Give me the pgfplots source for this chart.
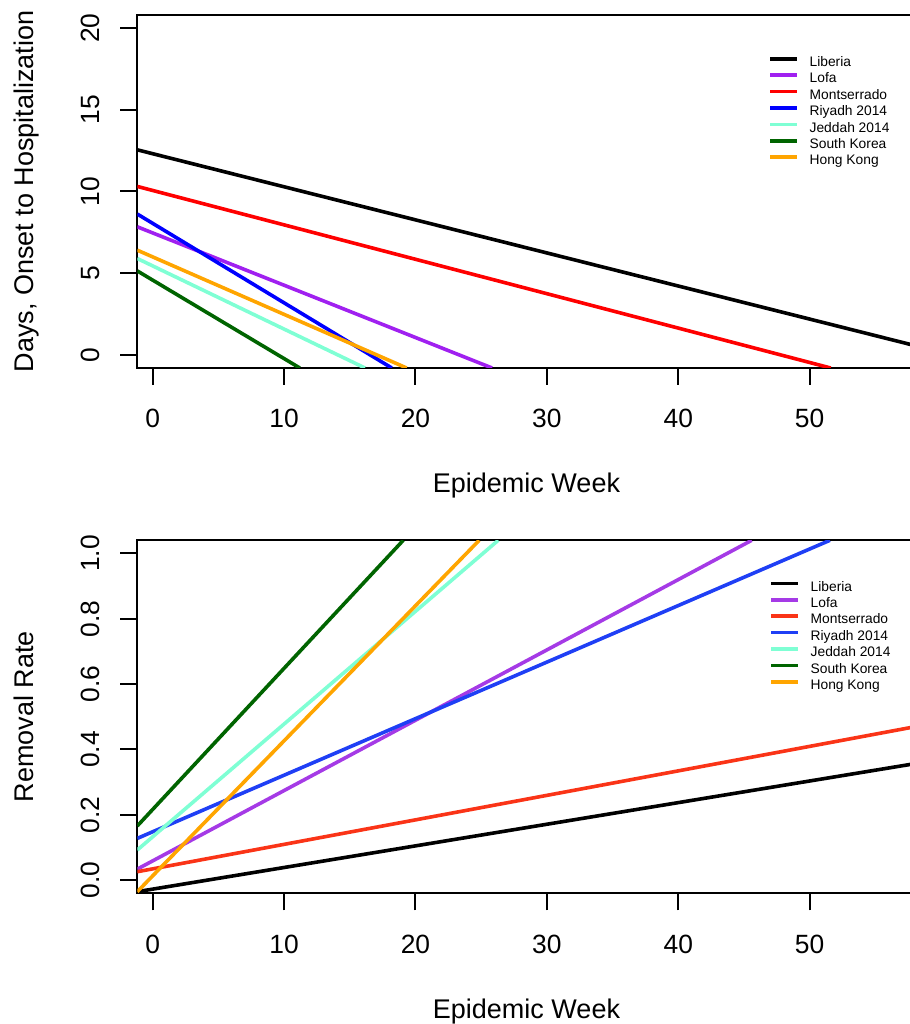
\documentclass[border=0pt]{standalone}
\usepackage{fontspec}
\setmainfont{Liberation Sans}
\usepackage{pgfplots}
\pgfplotsset{compat=1.18}

% R base graphics colours
\definecolor{rpurple}{HTML}{A020F0}
\definecolor{rpurpleB}{HTML}{A53AE6}
\definecolor{rred}{HTML}{FF0000}
\definecolor{rredB}{HTML}{FA3417}
\definecolor{rblue}{HTML}{0000FF}
\definecolor{rblueB}{HTML}{1F3FF5}
\definecolor{raqua}{HTML}{7FFFD4}
\definecolor{rdkgreen}{HTML}{006400}
\definecolor{rorange}{HTML}{FFA500}

\pgfplotsset{
  rpanel/.style={
    scale only axis,
    width=389.2pt, height=176.5pt,
    xmin=-1.17, xmax=58.07,
    xtick={0,10,...,50},
    xtick pos=bottom, ytick pos=left,
    tick align=outside,
    major tick length=8.5pt,
    axis line style={line width=1pt},
    every tick/.style={black, line width=1pt},
    /pgf/number format/assume math mode=true,
    ticklabel style={font=\fontsize{13.2}{15}\selectfont, inner sep=0pt},
    xticklabel style={anchor=north},
    xticklabel shift=12pt,
    yticklabel style={rotate=90, anchor=south},
    yticklabel shift=10pt,
    label style={font=\fontsize{13.5}{16}\selectfont, inner sep=0pt},
    xlabel={Epidemic Week},
    xlabel style={at={(axis description cs:0.5,0)}, anchor=base, yshift=-62.5pt},
    ylabel style={at={([xshift=-52pt]axis description cs:0,0.5)}, anchor=base, rotate=0},
    every axis plot/.append style={line width=1.8pt},
    legend cell align=left,
    legend image code/.code={\draw[##1, line width=1.8pt] (0pt,2.4pt) -- (13.4pt,2.4pt);},
    legend style={draw=none, fill=none, inner sep=0pt, outer sep=0pt,
      row sep=0pt, font=\fontsize{6.9}{8}\selectfont,
      nodes={inner sep=0pt, text height=5.5pt, text depth=2.7pt},
      /tikz/every odd column/.append style={column sep=5.5pt}},
  },
}

\begin{document}
\begin{tikzpicture}
% upper panel: days from onset to hospitalization
\begin{axis}[rpanel, at={(68.65pt,328pt)},
  ymin=-0.8, ymax=20.8, ytick={0,5,...,20},
  ylabel={Days, Onset to Hospitalization},
  legend style={at={(axis description cs:0.8106,0.8853)}, anchor=north west}]
\addplot[black]    coordinates {(-1.17,12.55) (58.07,0.56)};
\addplot[rpurple]  coordinates {(-1.17,7.84) (25.83,-0.8)};
\addplot[rred]     coordinates {(-1.17,10.31) (51.6,-0.8)};
\addplot[rblue]    coordinates {(-1.17,8.62) (18.2,-0.8)};
\addplot[raqua]    coordinates {(-1.17,5.9) (16.16,-0.8)};
\addplot[rdkgreen] coordinates {(-1.17,5.14) (11.2,-0.8)};
\addplot[rorange]  coordinates {(-1.17,6.41) (19.33,-0.8)};
\legend{Liberia, Lofa, Montserrado, Riyadh 2014, Jeddah 2014, South Korea, Hong Kong}
\end{axis}
% lower panel: removal rate
\begin{axis}[rpanel, at={(68.65pt,65.35pt)},
  ymin=-0.04, ymax=1.04, ytick={0,0.2,...,1.0},
  yticklabel style={/pgf/number format/.cd, fixed, fixed zerofill, precision=1},
  ylabel={Removal Rate},
  legend style={at={(axis description cs:0.8119,0.8873)}, anchor=north west}]
\addplot[black]    coordinates {(-1.17,-0.035) (58.07,0.357)};
\addplot[rpurpleB] coordinates {(-1.17,0.034) (45.59,1.04)};
\addplot[rredB]    coordinates {(-1.17,0.026) (58.07,0.470)};
\addplot[rblueB]   coordinates {(-1.17,0.128) (51.54,1.04)};
\addplot[raqua]    coordinates {(-1.17,0.0925) (26.3,1.04)};
\addplot[rdkgreen] coordinates {(-1.17,0.166) (19.07,1.04)};
\addplot[rorange]  coordinates {(-1.17,-0.035) (24.85,1.04)};
\legend{Liberia, Lofa, Montserrado, Riyadh 2014, Jeddah 2014, South Korea, Hong Kong}
\end{axis}
\pgfresetboundingbox
\useasboundingbox (0,0) rectangle (455pt,512pt);
\end{tikzpicture}
\end{document}
